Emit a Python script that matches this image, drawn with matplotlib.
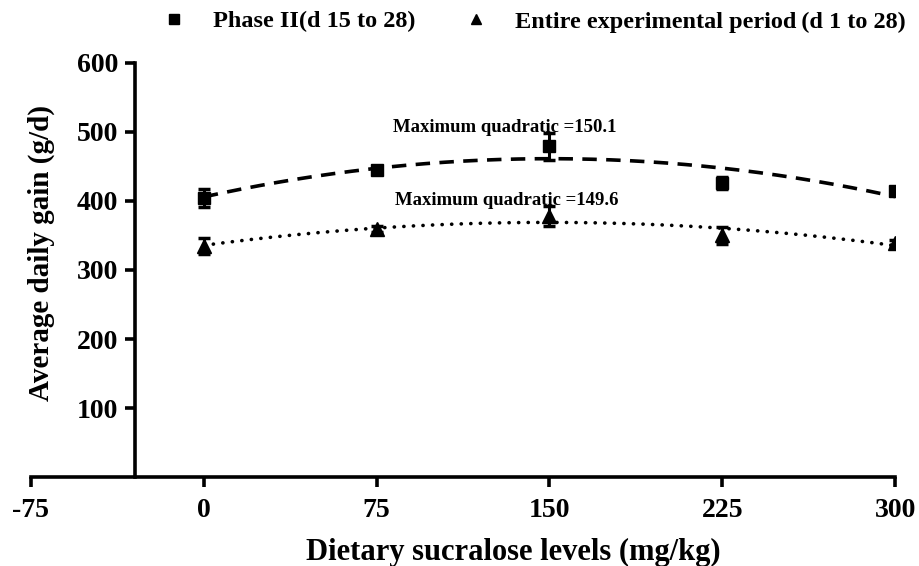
import numpy as np
import matplotlib
matplotlib.use("Agg")
import matplotlib.pyplot as plt
from matplotlib.lines import Line2D

plt.rcParams['font.family'] = ['Liberation Serif', 'DejaVu Serif']
plt.rcParams['font.weight'] = 'bold'

levels = [0, 75, 150, 225, 300]

phase2 = [404, 445, 479, 426, 414]
phase2_err = [13, 4, 20, 8, 5]

entire = [335, 359, 378, 350, 339]
entire_err = [12, 4, 14, 12, 4]

yticks = [100, 200, 300, 400, 500, 600]
xticks = [-75, 0, 75, 150, 225, 300]

fig = plt.figure(figsize=(9.19, 5.66), dpi=100)
ax = fig.add_axes([0.0337, 0.157, 0.9403, 0.732])

# quadratic fits
xs = np.linspace(0, 300, 300)
c1 = np.polyfit(levels, phase2, 2)
c2 = np.polyfit(levels, entire, 2)
ax.plot(xs, np.polyval(c1, xs), color='black', lw=2.6, linestyle=(0, (4, 2.6)))
ax.plot(xs, np.polyval(c2, xs), color='black', lw=2.6, linestyle=(0, (0.05, 2.6)),
        dash_capstyle='round')

ax.errorbar(levels, phase2, yerr=phase2_err, fmt='s', color='black', ms=8.5,
            capsize=4.5, capthick=2.5, elinewidth=2.2)
ax.errorbar(levels, entire, yerr=entire_err, fmt='^', color='black', ms=9.5,
            capsize=4.5, capthick=2.5, elinewidth=2.2)

ax.text(82, 507, 'Maximum quadratic =150.1', fontsize=13.5, fontweight='bold', va='center')
ax.text(83, 400, 'Maximum quadratic =149.6', fontsize=13.5, fontweight='bold', va='center')

ax.set_xlim(-75, 300)
ax.set_ylim(0, 600)
ax.set_xticks(xticks)
ax.set_yticks(yticks)
ax.set_xticklabels([str(t) for t in xticks])
ax.set_yticklabels([str(t) for t in yticks])

ax.spines['top'].set_visible(False)
ax.spines['right'].set_visible(False)
ax.spines['left'].set_position(('data', -30))
ax.spines['left'].set_linewidth(2.6)
ax.spines['bottom'].set_linewidth(2.6)
ax.tick_params(axis='both', width=2.6, length=7, labelsize=20, pad=5)
ax.tick_params(axis='x', pad=8)

ax.set_xlabel('Dietary sucralose levels (mg/kg)', fontsize=22, fontweight='bold')
ax.xaxis.set_label_coords(0.558, -0.147)
ax.set_ylabel('Average daily gain (g/d)', fontsize=21, fontweight='bold')
ax.yaxis.set_label_coords(0.028, 0.54)

handles = [
    Line2D([], [], marker='s', ls='none', color='black', ms=7),
    Line2D([], [], marker='^', ls='none', color='black', ms=7),
]
labels = ['Phase II(d 15 to 28)', 'Entire experimental period\u2009(d 1 to 28)']
fig.legend(handles, labels, loc='center left', bbox_to_anchor=(0.15, 0.962), ncol=2,
           frameon=False, fontsize=17.5, handletextpad=1.0, columnspacing=1.9,
           handlelength=1.2, borderpad=0.4)

fig.savefig('out.png', dpi=100)
